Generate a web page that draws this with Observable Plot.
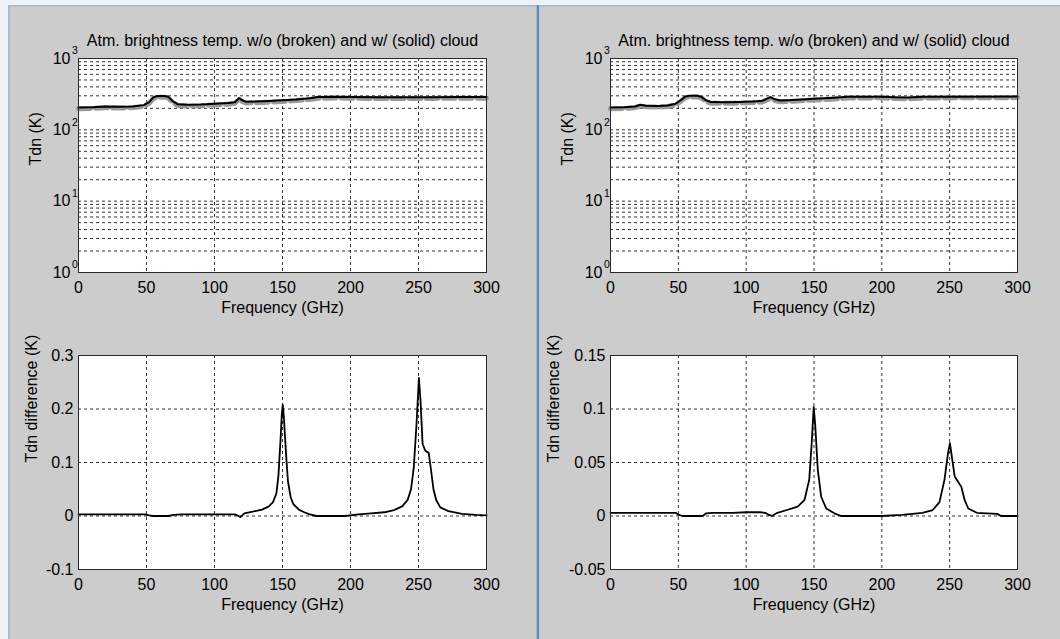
<!DOCTYPE html>
<html><head><meta charset="utf-8">
<script src="https://cdn.jsdelivr.net/npm/d3@7"></script>
<script src="https://cdn.jsdelivr.net/npm/@observablehq/plot@0.6"></script>
<style>
html,body{margin:0;padding:0;background:#eef2f6;width:1060px;height:639px;overflow:hidden;font-family:"Liberation Sans",Arial,Helvetica,sans-serif;}
#bg{position:absolute;left:8px;top:5px;width:1052px;height:634px;background:#cccccc;border-top:2px solid #a9bdd0;border-left:2px solid #a9bdd0;box-sizing:border-box}
#divider{position:absolute;left:536px;top:5px;width:4px;height:634px;background:linear-gradient(to right,#9fb5ca 0,#9fb5ca 1px,#6b8bab 1px,#6b8bab 3px,#b3c5d6 3px)}
.q{position:absolute}
</style></head><body>
<div id="bg"></div><div id="divider"></div>
<div id="tl" class="q"></div><div id="bl" class="q"></div>
<div id="tr" class="q"></div><div id="br" class="q"></div>
<script>
// ---------- data ----------
const titleText = "Atm. brightness temp. w/o (broken) and w/ (solid) cloud";
const xTicks = [0, 50, 100, 150, 200, 250, 300];
const xGrid = [50, 100, 150, 200, 250];
const logDecades = [1, 10, 100, 1000];
const logGrid = [2,3,4,5,6,7,8,9,10,20,30,40,50,60,70,80,90,100,200,300,400,500,600,700,800,900];

// left panel, top: brightness temperature (K)
const leftTopFreq   = [0, 10, 20, 30, 40, 48, 52, 55, 58, 63, 66, 69, 73, 80, 90, 100, 110, 115, 118, 120, 123, 130, 140, 150, 160, 170, 176, 190, 200, 220, 240, 260, 280, 300];
const leftTopSolid  = [205, 207, 212, 210, 213, 222, 245, 285, 298, 298, 290, 255, 228, 224, 226, 232, 238, 244, 280, 262, 248, 250, 254, 260, 267, 278, 288, 290, 288, 286, 286, 287, 288, 289];
const leftTopBroken = [197, 199, 204, 202, 205, 213, 236, 275, 287, 287, 279, 245, 219, 215, 217, 223, 229, 235, 270, 252, 238, 240, 244, 250, 257, 267, 277, 279, 277, 275, 275, 276, 277, 278];

// right panel, top
const rightTopFreq   = [0, 10, 18, 22, 26, 35, 42, 48, 52, 55, 58, 64, 67, 70, 74, 85, 95, 105, 112, 118, 121, 125, 135, 150, 165, 175, 200, 210, 220, 230, 260, 300];
const rightTopSolid  = [205, 207, 212, 225, 218, 216, 220, 232, 262, 292, 300, 300, 290, 262, 245, 244, 246, 250, 256, 287, 268, 258, 262, 272, 282, 290, 292, 286, 284, 290, 292, 294];
const rightTopBroken = [197, 199, 204, 216, 210, 208, 212, 223, 252, 281, 289, 289, 279, 252, 236, 235, 237, 241, 246, 276, 258, 248, 252, 262, 271, 279, 281, 275, 273, 279, 281, 283];

// left panel, bottom: difference (K)
const leftDiffFreq = [0, 20, 40, 49, 52, 55, 60, 66, 70, 76, 90, 100, 110, 115, 117, 119, 122, 128, 135, 140, 143, 145.5, 147, 148.5, 149.5, 150.2, 151, 152.5, 154, 156, 158, 162, 166, 170, 175, 185, 196, 206, 215, 225, 232, 238, 242, 244.5, 246.5, 248.5, 250.3, 251.5, 253, 255, 257.5, 259, 261, 263, 266, 272, 282, 292, 300];
const leftDiff     = [0.003, 0.003, 0.003, 0.003, 0.001, 0, 0, 0, 0.002, 0.003, 0.003, 0.003, 0.003, 0.003, 0.001, -0.002, 0.005, 0.008, 0.012, 0.018, 0.026, 0.042, 0.075, 0.14, 0.19, 0.208, 0.185, 0.12, 0.065, 0.035, 0.022, 0.012, 0.007, 0.003, 0, 0, 0, 0.003, 0.005, 0.007, 0.011, 0.018, 0.03, 0.05, 0.09, 0.17, 0.258, 0.215, 0.135, 0.122, 0.118, 0.09, 0.05, 0.03, 0.016, 0.009, 0.004, 0.002, 0.001];

// right panel, bottom
const rightDiffFreq = [0, 20, 30, 48, 50.5, 53, 60, 68, 70.5, 75, 90, 100, 110, 114, 117, 119, 123, 130, 138, 143, 146.5, 148.3, 149.8, 151, 152.8, 155.3, 159, 165, 170, 185, 200, 215, 230, 237.5, 242.5, 246.2, 248.7, 250.2, 252, 253.7, 256.2, 258.7, 261, 263.7, 270, 285, 288, 300];
const rightDiff     = [0.003, 0.003, 0.003, 0.003, 0.001, 0, 0, 0, 0.0025, 0.003, 0.003, 0.0035, 0.0035, 0.003, 0.001, 0, 0.003, 0.0056, 0.0087, 0.015, 0.034, 0.068, 0.102, 0.083, 0.043, 0.018, 0.007, 0.0025, 0, 0, 0, 0.001, 0.003, 0.0056, 0.013, 0.034, 0.058, 0.068, 0.052, 0.037, 0.032, 0.027, 0.015, 0.007, 0.003, 0.002, 0, 0];

const leftDiffTicks = [-0.1, 0, 0.1, 0.2, 0.3];
const leftDiffGrid = [0, 0.1, 0.2];
const rightDiffTicks = [-0.05, 0, 0.05, 0.1, 0.15];
const rightDiffGrid = [0, 0.05, 0.1];

// ---------- drawing ----------
const FONT = '"Liberation Sans", Arial, Helvetica, sans-serif';
const FS = 16;
const gridStyle = {stroke: "#000", strokeOpacity: 0.8, strokeWidth: 1, strokeDasharray: "3,3"};

function zip(f, v) { return f.map((x, i) => ({f: x, v: v[i]})); }

function topChart(o) {
  return Plot.plot({
    width: o.W, height: o.H,
    marginLeft: o.ml, marginRight: o.mr, marginTop: o.mt, marginBottom: o.mb,
    style: {background: "transparent", fontFamily: FONT, fontSize: FS + "px", color: "#000", overflow: "visible"},
    x: {domain: [0, 300]},
    y: {type: "log", domain: [1, 1000]},
    marks: [
      Plot.frame({fill: "white", stroke: null}),
      Plot.gridX({ticks: xGrid, ...gridStyle}),
      Plot.gridY({ticks: logGrid, ...gridStyle}),
      Plot.line(zip(o.freq, o.broken), {x: "f", y: "v", stroke: "#999999", strokeWidth: 5, strokeDasharray: "12,5"}),
      Plot.line(zip(o.freq, o.solid), {x: "f", y: "v", stroke: "#000", strokeWidth: 2}),
      Plot.frame({stroke: "#2a2a2a"}),
      Plot.axisX({ticks: xTicks, tickSize: 0, tickPadding: 9, label: null, tickFormat: d => String(d)}),
      Plot.axisY({ticks: logDecades, tickSize: 0, tickPadding: 8, label: null, tickFormat: () => "10"}),
      Plot.text(logDecades, {y: d => d, text: d => String(Math.round(Math.log10(d))), frameAnchor: "left", dx: -6.5, dy: -7.5, textAnchor: "start", fontSize: 10.5}),
      Plot.text([titleText], {text: d => d, frameAnchor: "top", lineAnchor: "middle", dy: -18}),
      Plot.text(["Frequency (GHz)"], {text: d => d, frameAnchor: "bottom", lineAnchor: "middle", dy: 35}),
      Plot.text(["Tdn (K)"], {text: d => d, frameAnchor: "left", dx: o.ylx, rotate: -90})
    ]
  });
}

function bottomChart(o) {
  return Plot.plot({
    width: o.W, height: o.H,
    marginLeft: o.ml, marginRight: o.mr, marginTop: o.mt, marginBottom: o.mb,
    style: {background: "transparent", fontFamily: FONT, fontSize: FS + "px", color: "#000", overflow: "visible"},
    x: {domain: [0, 300]},
    y: {domain: [o.ticks[0], o.ticks[o.ticks.length - 1]]},
    marks: [
      Plot.frame({fill: "white", stroke: null}),
      Plot.gridX({ticks: xGrid, ...gridStyle}),
      Plot.gridY({ticks: o.grid, ...gridStyle}),
      Plot.line(zip(o.freq, o.vals), {x: "f", y: "v", stroke: "#000", strokeWidth: 1.8}),
      Plot.frame({stroke: "#2a2a2a"}),
      Plot.axisX({ticks: xTicks, tickSize: 0, tickPadding: 9, label: null, tickFormat: d => String(d)}),
      Plot.axisY({ticks: o.ticks, tickSize: 0, tickPadding: 5, label: null, tickFormat: d => String(d)}),
      Plot.text(["Frequency (GHz)"], {text: d => d, frameAnchor: "bottom", lineAnchor: "middle", dy: 35}),
      Plot.text(["Tdn difference (K)"], {text: d => d, frameAnchor: "left", dx: o.ylx, rotate: -90})
    ]
  });
}

function place(id, el, left, top) {
  const box = document.getElementById(id);
  box.style.left = left + "px";
  box.style.top = top + "px";
  box.appendChild(el);
}

// top axes: y 58..272 ; bottom axes: y 355..569
// left axes: x 78..486 ; right axes: x 610..1017
place("tl", topChart({W: 537, H: 318, ml: 78, mr: 51, mt: 58, mb: 46,
  freq: leftTopFreq, solid: leftTopSolid, broken: leftTopBroken, ylx: -43}), 0, 0);
place("tr", topChart({W: 523, H: 318, ml: 73, mr: 43, mt: 58, mb: 46,
  freq: rightTopFreq, solid: rightTopSolid, broken: rightTopBroken, ylx: -43}), 537, 0);
place("bl", bottomChart({W: 537, H: 321, ml: 78, mr: 51, mt: 37, mb: 70,
  freq: leftDiffFreq, vals: leftDiff, ticks: leftDiffTicks, grid: leftDiffGrid, ylx: -47}), 0, 318);
place("br", bottomChart({W: 523, H: 321, ml: 73, mr: 43, mt: 37, mb: 70,
  freq: rightDiffFreq, vals: rightDiff, ticks: rightDiffTicks, grid: rightDiffGrid, ylx: -57}), 537, 318);
</script>
</body></html>
